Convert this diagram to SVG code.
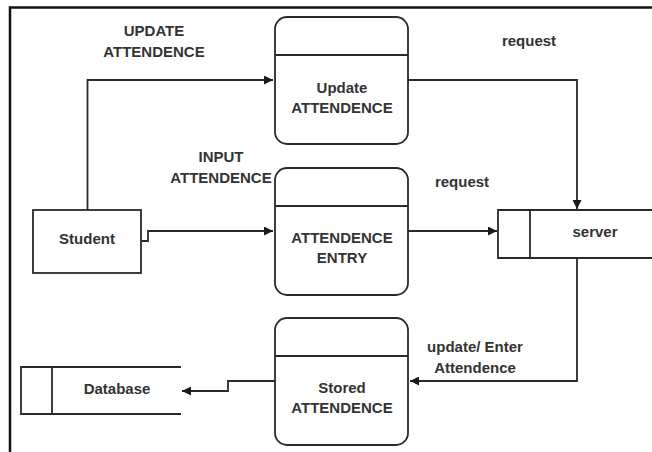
<svg xmlns="http://www.w3.org/2000/svg" width="652" height="452" viewBox="0 0 652 452">
<defs>
<style>
.ln{fill:none;stroke:#2a2a2a;stroke-width:1.8}
.bx{fill:#fff;stroke:#2a2a2a;stroke-width:1.8}
.t{font-family:"Liberation Sans",Arial,sans-serif;font-weight:bold;font-size:15px;fill:#333;text-anchor:middle}
</style>
<marker id="ah" viewBox="0 0 10 10" refX="10" refY="5" markerWidth="10" markerHeight="9" markerUnits="userSpaceOnUse" orient="auto">
<path d="M0,0 L10,5 L0,10 z" fill="#1a1a1a"/>
</marker>
</defs>
<rect width="652" height="452" fill="#fff"/>
<path d="M10,452 V7.5 H652" fill="none" stroke="#111" stroke-width="2.5"/>
<g id="connectors">
<path class="ln" d="M87.5,210 V80 H273" marker-end="url(#ah)"/>
<path class="ln" d="M408,80 H577 V209" marker-end="url(#ah)"/>
<path class="ln" d="M141,241 H148 V231 H273" marker-end="url(#ah)"/>
<path class="ln" d="M408,231 H497" marker-end="url(#ah)"/>
<path class="ln" d="M577,258 V381 H410" marker-end="url(#ah)"/>
<path class="ln" d="M275,381 H228 V391 H182" marker-end="url(#ah)"/>
</g>
<g id="label-update">
<text class="t" x="154" y="36">UPDATE</text>
<text class="t" x="154" y="57">ATTENDENCE</text>
</g>
<g id="label-request1"><text class="t" x="529" y="46">request</text></g>
<g id="label-input">
<text class="t" x="221" y="162">INPUT</text>
<text class="t" x="221" y="183">ATTENDENCE</text>
</g>
<g id="label-request2"><text class="t" x="462" y="187">request</text></g>
<g id="label-enter">
<text class="t" x="475" y="352">update/ Enter</text>
<text class="t" x="475" y="373">Attendence</text>
</g>
<g id="update-attendence">
<rect class="bx" x="275" y="17" width="133" height="127" rx="12"/>
<line class="ln" x1="275" y1="55" x2="408" y2="55"/>
<text class="t" x="342" y="93">Update</text>
<text class="t" x="342" y="113">ATTENDENCE</text>
</g>
<g id="attendence-entry">
<rect class="bx" x="275" y="168" width="133" height="127" rx="12"/>
<line class="ln" x1="275" y1="206" x2="408" y2="206"/>
<text class="t" x="342" y="243">ATTENDENCE</text>
<text class="t" x="342" y="263">ENTRY</text>
</g>
<g id="stored-attendence">
<rect class="bx" x="275" y="318" width="133" height="127" rx="12"/>
<line class="ln" x1="275" y1="356" x2="408" y2="356"/>
<text class="t" x="342" y="393">Stored</text>
<text class="t" x="342" y="413">ATTENDENCE</text>
</g>
<g id="student">
<rect class="bx" x="33" y="210" width="108" height="63"/>
<text class="t" x="87" y="244">Student</text>
</g>
<g id="server">
<path class="ln" d="M652,210 H498 V258 H652"/>
<line class="ln" x1="530" y1="210" x2="530" y2="258"/>
<text class="t" x="595" y="237">server</text>
</g>
<g id="database">
<path class="ln" d="M181,367 H21 V414 H181"/>
<line class="ln" x1="52" y1="367" x2="52" y2="414"/>
<text class="t" x="117" y="394">Database</text>
</g>
</svg>
